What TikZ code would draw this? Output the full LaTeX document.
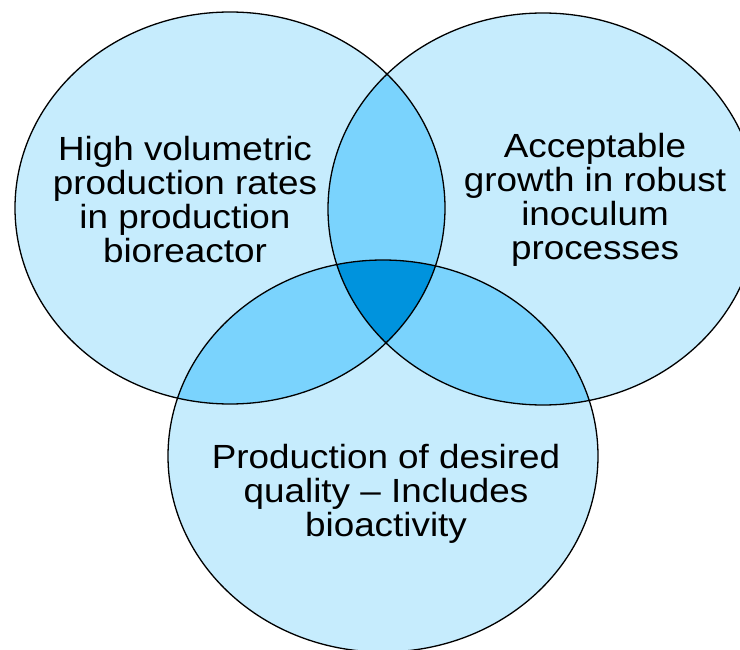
\documentclass[tikz,border=0pt]{standalone}
\usepackage{fontspec}
\setmainfont{Liberation Sans}
\definecolor{lightb}{HTML}{C6ECFD}
\definecolor{midb}{HTML}{7AD3FD}
\definecolor{darkb}{HTML}{0093DD}
\begin{document}
\begin{tikzpicture}[x=1pt,y=-1pt,
  lbl/.style={font=\fontsize{33.5}{34}\selectfont, align=center, inner sep=0pt, xscale=1.1, anchor=north},
  outline/.style={draw=black, line width=1.3pt}]
\useasboundingbox (0,0) rectangle (740,650);
\def\EA{(230,208) ellipse [x radius=215pt, y radius=196pt]}
\def\EB{(543,209) ellipse [x radius=215pt, y radius=196pt]}
\def\EC{(383,456) ellipse [x radius=215pt, y radius=196pt]}
\fill[lightb] \EA;
\fill[lightb] \EB;
\fill[lightb] \EC;
\begin{scope}
  \clip \EA;
  \fill[midb] \EB;
  \fill[midb] \EC;
\end{scope}
\begin{scope}
  \clip \EB;
  \fill[midb] \EC;
\end{scope}
\begin{scope}
  \clip \EA;
  \clip \EB;
  \fill[darkb] \EC;
\end{scope}
\draw[outline] \EA;
\draw[outline] \EB;
\draw[outline] \EC;
\node[lbl] (tA) at (185,136) {High volumetric\\production rates\\in production\\bioreactor};
\node[lbl] (tB) at (595,133) {Acceptable\\growth in robust\\inoculum\\processes};
\node[lbl] (tC) at (386,444) {Production of desired\\quality – Includes\\bioactivity};
\end{tikzpicture}
\end{document}
